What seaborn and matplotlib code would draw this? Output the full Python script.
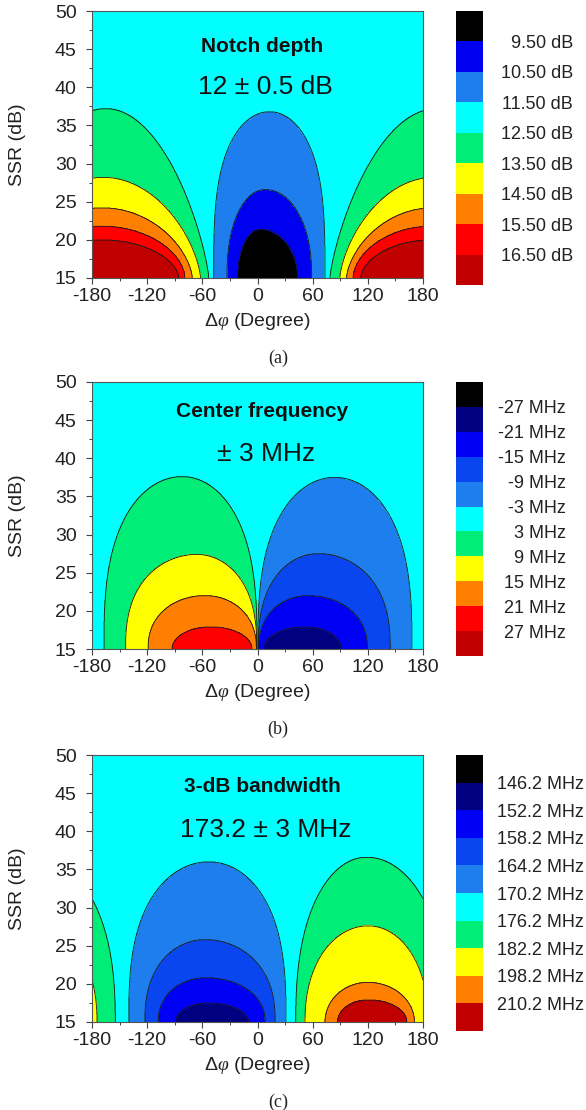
import numpy as np
import matplotlib
matplotlib.use("Agg")
import matplotlib.pyplot as plt
from matplotlib.ticker import MultipleLocator
import seaborn as sns

# ---------------- data ----------------
PHI_TICKS = [-180, -120, -60, 0, 60, 120, 180]
SSR_TICKS = [15, 20, 25, 30, 35, 40, 45, 50]

# (a) Notch depth
A_LEVELS = [9.5, 10.5, 11.5, 12.5, 13.5, 14.5, 15.5, 16.5]
A_LABELS = ["9.50 dB", "10.50 dB", "11.50 dB", "12.50 dB", "13.50 dB",
            "14.50 dB", "15.50 dB", "16.50 dB"]
A_COLORS = ["#000000", "#0000F0", "#1E7EEE", "#00FFFF", "#00EE78",
            "#FFFF00", "#FF8000", "#FF0000", "#C00000"]
A_BASE_BAND = 3
# contours enclosing lower values (centre dome): 11.5, 10.5, 9.5 dB
A_LOW_LEFT = [-47.7, -33.2, -21.7]
A_LOW_PEAK = [13.0, 8.3, 3.0]
A_LOW_RIGHT = [73.4, 58.9, 43.7]
A_LOW_TOP = [36.8, 26.6, 21.4]
A_LOW_Q = [3.2, 2.3, 2.0]
# contours enclosing higher values (side lobes, periodic): 12.5 ... 16.5 dB
A_HIGH_LEFT = [-281.2, -270.4, -263.1, -256.0, -247.6]
A_HIGH_PEAK = [-165.0, -168.0, -169.0, -170.0, -170.0]
A_HIGH_RIGHT = [-53.0, -62.0, -71.0, -79.0, -85.7]
A_HIGH_TOP = [37.2, 28.2, 24.2, 21.8, 20.0]
A_HIGH_Q = [1.3, 1.5, 1.6, 1.8, 1.8]

# (b) Center frequency
B_LEVELS = [-27, -21, -15, -9, -3, 3, 9, 15, 21, 27]
B_LABELS = ["-27 MHz", "-21 MHz", "-15 MHz", "-9 MHz", "-3 MHz",
            "3 MHz", "9 MHz", "15 MHz", "21 MHz", "27 MHz"]
B_COLORS = ["#000000", "#000080", "#0000F5", "#0A46F0", "#1E7EEE", "#00FFFF",
            "#00EE78", "#FFFF00", "#FF8000", "#FF0000", "#C00000"]
B_BASE_BAND = 5
B_LOW_LEFT = [0.5, 0.8, 1.2, 6.5]
B_LOW_PEAK = [84.0, 66.0, 55.0, 52.0]
B_LOW_RIGHT = [168.0, 144.3, 119.6, 91.4]
B_LOW_TOP = [37.5, 27.5, 22.0, 17.9]
B_LOW_Q = [2.8, 2.5, 2.3, 2.0]
B_HIGH_LEFT = [-167.0, -143.5, -119.0, -93.0]
B_HIGH_PEAK = [-82.0, -66.0, -57.0, -51.0]
B_HIGH_RIGHT = [-0.5, -0.8, -1.2, -6.0]
B_HIGH_TOP = [37.6, 27.4, 22.0, 17.9]
B_HIGH_Q = [2.8, 2.5, 2.3, 2.0]

# (c) 3-dB bandwidth
C_LEVELS = [146.2, 152.2, 158.2, 164.2, 170.2, 176.2, 182.2, 198.2, 210.2]
C_LABELS = ["146.2 MHz", "152.2 MHz", "158.2 MHz", "164.2 MHz", "170.2 MHz",
            "176.2 MHz", "182.2 MHz", "198.2 MHz", "210.2 MHz"]
C_COLORS = ["#000000", "#000080", "#0000F5", "#0A46F0", "#1E7EEE", "#00FFFF",
            "#00EE78", "#FFFF00", "#FF8000", "#C00000"]
C_BASE_BAND = 5
C_LOW_LEFT = [-140.0, -122.5, -108.0, -89.3]
C_LOW_PEAK = [-53.0, -57.0, -56.0, -53.0]
C_LOW_RIGHT = [31.0, 19.2, 8.3, -9.8]
C_LOW_TOP = [36.0, 25.8, 20.8, 17.5]
C_LOW_Q = [2.8, 2.4, 2.2, 2.0]
C_HIGH_LEFT = [41.6, 51.7, 73.4, 87.0]
C_HIGH_PEAK = [118.5, 120.3, 120.0, 120.6]
C_HIGH_RIGHT = [205.3, 185.4, 170.7, 162.4]
C_HIGH_TOP = [36.6, 27.6, 20.2, 17.9]
C_HIGH_Q = [2.4, 2.2, 2.0, 2.0]

TITLES = ["Notch depth", "Center frequency", "3-dB bandwidth"]
SUBTITLES = ["12 \u00b1 0.5 dB", "\u00b1 3 MHz", "173.2 \u00b1 3 MHz"]
CAPTIONS = ["(a)", "(b)", "(c)"]

# ---------------- style ----------------
sns.set_theme(style="ticks")
plt.rcParams["font.family"] = ["Liberation Sans", "DejaVu Sans"]
plt.rcParams["mathtext.fontset"] = "custom"
plt.rcParams["mathtext.rm"] = "Liberation Sans"
plt.rcParams["mathtext.it"] = "Liberation Serif:italic"
plt.rcParams["axes.unicode_minus"] = False
plt.rcParams["contour.negative_linestyle"] = "solid"

W, H = 586, 1110
fig = plt.figure(figsize=(W / 100, H / 100), dpi=100)

phi = np.linspace(-180, 180, 1441)
ssr = np.linspace(15, 50, 701)
X, Y = np.meshgrid(phi, ssr)


def inside(left, peak, right, top, q):
    dx = (X - peak + 180.0) % 360.0 - 180.0
    u = np.where(dx < 0, dx / (peak - left), dx / (right - peak))
    t = np.clip((Y - 15.0) / (top - 15.0), 0, None)
    return ((u ** 2 + t ** q) < 1.0).astype(int)


def field(levels, base, low, high):
    band = np.full(X.shape, base)
    for args in zip(*low):
        band -= inside(*args)
    for args in zip(*high):
        band += inside(*args)
    band = np.clip(band, 0, len(levels))
    lo = levels[0] - (levels[1] - levels[0])
    hi = levels[-1] + (levels[-1] - levels[-2])
    bounds = np.array([lo] + list(levels) + [hi])
    mids = 0.5 * (bounds[:-1] + bounds[1:])
    return mids[band], bounds


panels = [
    (A_LEVELS, A_LABELS, A_COLORS, A_BASE_BAND,
     (A_LOW_LEFT, A_LOW_PEAK, A_LOW_RIGHT, A_LOW_TOP, A_LOW_Q),
     (A_HIGH_LEFT, A_HIGH_PEAK, A_HIGH_RIGHT, A_HIGH_TOP, A_HIGH_Q)),
    (B_LEVELS, B_LABELS, B_COLORS, B_BASE_BAND,
     (B_LOW_LEFT, B_LOW_PEAK, B_LOW_RIGHT, B_LOW_TOP, B_LOW_Q),
     (B_HIGH_LEFT, B_HIGH_PEAK, B_HIGH_RIGHT, B_HIGH_TOP, B_HIGH_Q)),
    (C_LEVELS, C_LABELS, C_COLORS, C_BASE_BAND,
     (C_LOW_LEFT, C_LOW_PEAK, C_LOW_RIGHT, C_LOW_TOP, C_LOW_Q),
     (C_HIGH_LEFT, C_HIGH_PEAK, C_HIGH_RIGHT, C_HIGH_TOP, C_HIGH_Q)),
]

ax_tops = [11, 382, 755]          # pixel rows of the axes tops
cb_bottoms = [285, 656, 1031]     # pixel rows of the colour bar bottoms
label_right = [573, 566, 584]     # right edge of colour bar labels
title_y = [45.3, 46.1, 45.9]
sub_y = [40.0, 40.6, 40.2]
ax_h = 267

for i, (levels, labels, colors, base, low, high) in enumerate(panels):
    top = ax_tops[i]
    ax = fig.add_axes([92 / W, 1 - (top + ax_h) / H, 331 / W, ax_h / H])
    Z, bounds = field(levels, base, low, high)
    cs = ax.contourf(X, Y, Z, levels=bounds, colors=colors)
    ax.contour(X, Y, Z, levels=levels, colors="#1a1a1a", linewidths=0.6,
               linestyles="solid")

    ax.set_xlim(-180, 180)
    ax.set_ylim(15, 50)
    ax.set_xticks(PHI_TICKS)
    ax.set_yticks(SSR_TICKS)
    ax.xaxis.set_minor_locator(MultipleLocator(30))
    ax.yaxis.set_minor_locator(MultipleLocator(2.5))
    ax.tick_params(which="major", direction="out", length=4, width=0.8,
                   color="#444444", labelsize=14, labelcolor="#222222")
    ax.tick_params(axis="x", which="major", pad=3)
    ax.tick_params(axis="y", which="major", pad=7)
    ax.tick_params(which="minor", direction="out", length=2.5, width=0.7,
                   color="#444444")
    for sp in ax.spines.values():
        sp.set_color("#555555")
        sp.set_linewidth(0.8)

    ax.set_xlabel(r"$\Delta\varphi$ (Degree)", fontsize=14, color="#222222")
    ax.xaxis.label.set_va("center")
    ax.xaxis.set_label_coords(0.5, -43.7 / ax_h)
    ax.set_ylabel("SSR (dB)", fontsize=14, color="#222222")
    ax.yaxis.label.set_va("center")
    ax.yaxis.set_label_coords((17 - 92) / 331, 0.5)

    ax.text(5, title_y[i], TITLES[i], ha="center", va="center",
            fontsize=15, fontweight="bold", color="#111111")
    ax.text(9, sub_y[i], SUBTITLES[i], ha="center", va="center",
            fontsize=19, color="#111111")

    cb_bot = cb_bottoms[i]
    cax = fig.add_axes([456 / W, 1 - cb_bot / H, 27 / W, (cb_bot - top) / H])
    cb = fig.colorbar(cs, cax=cax, spacing="uniform", ticks=levels)
    cb.ax.set_yticklabels(labels)
    cb.ax.invert_yaxis()
    cb.outline.set_visible(False)
    pad_pt = (label_right[i] - 483) * 72 / 100
    cb.ax.tick_params(length=0, pad=pad_pt, labelsize=13, labelcolor="#222222")
    for lab in cb.ax.get_yticklabels():
        lab.set_ha("right")

    fig.text(278 / W, 1 - (top + 347) / H, CAPTIONS[i], ha="center",
             va="center", fontsize=13, family="Liberation Serif",
             color="#222222")

fig.savefig("out.png", dpi=100)
